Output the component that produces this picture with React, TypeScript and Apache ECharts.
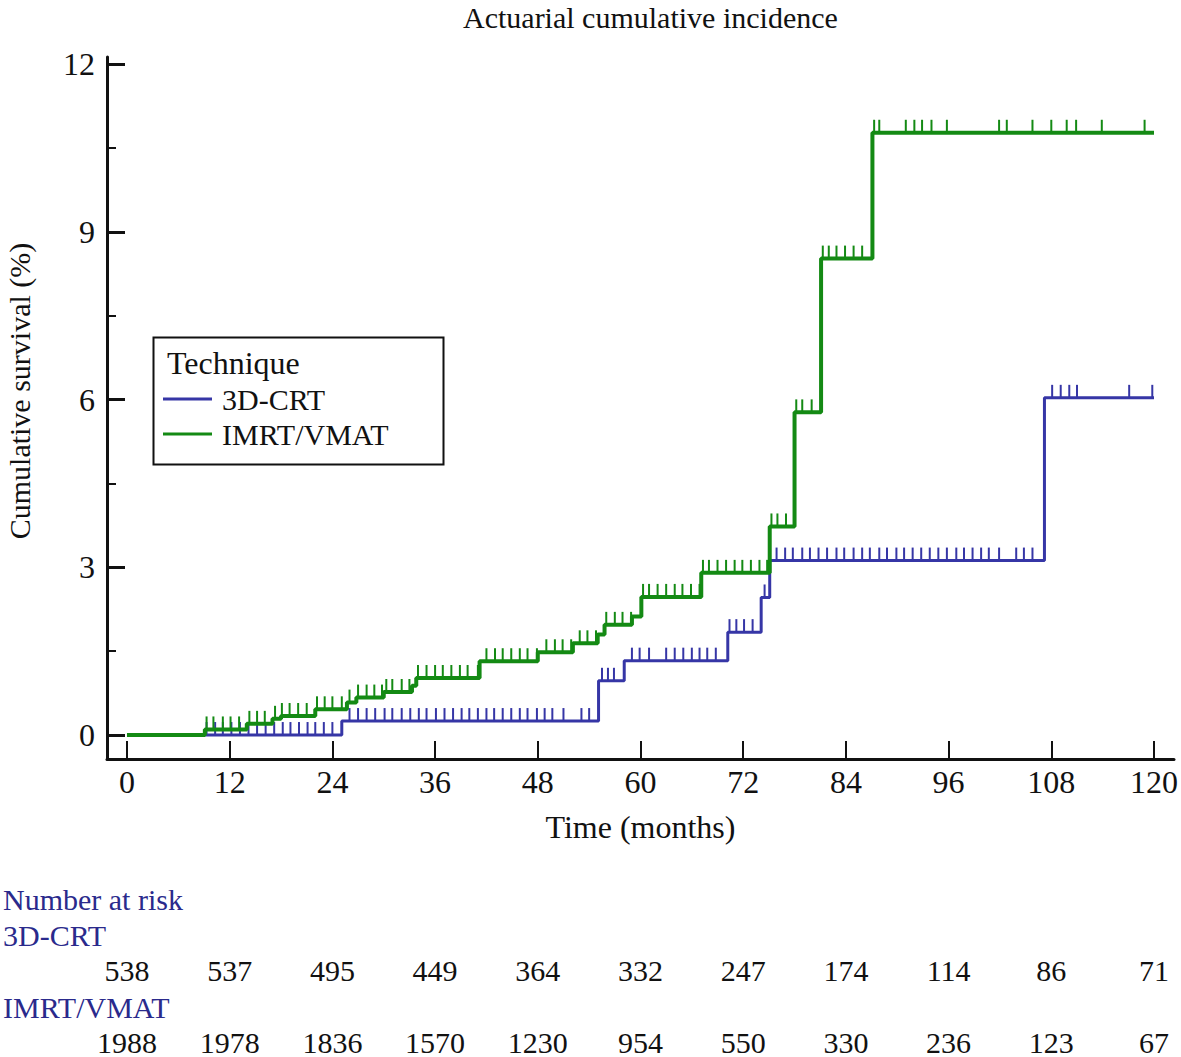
import React, { useEffect, useRef } from "react";
import * as echarts from "echarts";

// ---- data ----
const xTicks = [0, 12, 24, 36, 48, 60, 72, 84, 96, 108, 120];
const yMajorTicks = [0, 3, 6, 9, 12];
const yMinorTicks = [1.5, 4.5, 7.5, 10.5];

const crtTimes = [0, 25.1, 55.1, 58.1, 70.2, 74.1, 75.1, 107.2, 120];
const crtValues = [0, 0.25, 0.97, 1.33, 1.84, 2.46, 3.12, 6.03, 6.03];

const imrtTimes = [0, 9.1, 14, 17, 18, 22, 25.7, 26.8, 30, 33.3, 33.8, 41.2, 48, 52.1, 55, 55.8, 59, 60.1, 67.1, 75.1, 78, 81.1, 87.1, 120];
const imrtValues = [0, 0.1, 0.2, 0.29, 0.34, 0.46, 0.58, 0.67, 0.77, 0.88, 1.02, 1.32, 1.48, 1.64, 1.8, 1.97, 2.12, 2.47, 2.9, 3.73, 5.77, 8.52, 10.77, 10.77];

const crtCensored = [
  9.3, 10.3, 11.2, 12.2, 13.2, 14.2, 15.2, 16.2, 17.2, 18.2, 19.1, 20.1, 21.1, 22, 23, 24,
  26, 27, 28, 29, 30.1, 31, 32.1, 33.1, 34.1, 35, 36.1, 37.1, 38.1, 39.1, 40, 41, 42, 42.9, 43.9, 44.9, 45.9, 46.8, 47.9, 48.8, 49.7, 51, 53.1, 54,
  55.5, 56.2, 56.9,
  59, 59.9, 61, 63, 64, 65, 66, 66.9, 67.8, 68.8,
  70.4, 71.2, 72.1, 73.1,
  74.5,
  75.9, 76.9, 77.8, 78.9, 79.8, 80.8, 81.8, 82.9, 83.8, 84.9, 85.9, 86.8, 87.9, 88.8, 89.9, 90.8, 91.8, 92.8, 93.8, 94.8, 95.8, 96.9, 97.8, 98.8, 99.8, 100.7, 101.9, 103.9, 104.8, 105.8,
  108.1, 109.1, 110.1, 111, 117.1, 119.8,
];

const imrtCensored = [
  9.3, 10.1, 11.2, 12.1, 13.1,
  14.3, 15.2, 16.1,
  17.3,
  18.1, 19, 20, 21,
  22.2, 23.1, 24, 25.1,
  26,
  27, 28, 28.9, 29.8,
  30.3, 31, 32.1, 33,
  34, 35, 36, 36.9, 37.9, 38.9, 39.8, 41,
  42, 43, 43.9, 44.9, 45.9, 46.8, 47.9,
  49, 50, 50.9, 51.9,
  52.9, 53.8, 54.8,
  56, 57, 57.9, 58.9,
  60.3, 61, 62, 63, 64, 64.9, 65.9, 66.9,
  67.3, 68, 69, 70, 71, 71.9, 72.9, 73.9, 74.8,
  75.3, 76, 77,
  78.2, 78.9, 80,
  81.3, 82, 82.9, 83.9, 84.9, 85.9,
  87.3, 87.9, 91, 92, 92.9, 94, 95.8, 101.9, 102.8, 105.8, 108, 109.8, 110.9, 113.9, 118.9,
];

const crtAtRisk = [538, 537, 495, 449, 364, 332, 247, 174, 114, 86, 71];
const imrtAtRisk = [1988, 1978, 1836, 1570, 1230, 954, 550, 330, 236, 123, 67];

const seriesNames = ["3D-CRT", "IMRT/VMAT"];

// ---- styling ----
const BLUE = "#3636a6";
const GREEN = "#148a14";
const INK = "#111111";
const NAVY = "#2a2a8c";
const FONT = '"Liberation Serif", "Times New Roman", serif';
const FS_BIG = 32;
const FS_EDGE = 30;
const FS = 30;

// axis geometry (pixel mapping: 0 month at x=127, 120 at x=1155; 0% at y=736, 12% at y=64)
const X_MIN = -20 / (1028 / 120);
const X_MAX = 120 + 20 / (1028 / 120);
const Y_MIN = -24 / 56;
const Y_MAX = Y_MIN + 703 / 56;

function stepAt(times: number[], values: number[], t: number): number {
  let v = values[0];
  for (let i = 0; i < times.length; i++) {
    if (times[i] <= t) v = values[i];
  }
  return v;
}

export default function App() {
  const ref = useRef<HTMLDivElement>(null);

  useEffect(() => {
    if (!ref.current) return;
    const chart = echarts.init(ref.current, undefined, { renderer: "svg" });

    const bigStyle = { fontSize: FS_BIG, fontFamily: FONT, color: INK };
    const smallStyle = { fontSize: FS, fontFamily: FONT, color: INK };

    const option: any = {
      animation: false,
      backgroundColor: "#ffffff",
      title: {
        text: "Actuarial cumulative incidence",
        left: 463,
        top: 2,
        padding: 0,
        textStyle: { fontSize: FS_EDGE, fontFamily: FONT, color: INK, fontWeight: "normal" },
      },
      grid: { left: 107, right: 6, top: 57, bottom: 297, containLabel: false },
      legend: {
        data: seriesNames,
        orient: "vertical",
        left: 163,
        top: 384,
        padding: 0,
        itemWidth: 49,
        itemHeight: 3,
        itemGap: 5,
        icon: "rect",
        textStyle: { fontSize: FS, fontFamily: FONT, color: INK, padding: [0, 0, 0, 5] },
        z: 10,
      },
      xAxis: [
        {
          type: "value",
          min: X_MIN,
          max: X_MAX,
          axisLine: { show: true, onZero: false, lineStyle: { color: INK, width: 3 } },
          axisTick: { show: true, inside: true, length: 18, customValues: xTicks, lineStyle: { color: INK, width: 2 } },
          axisLabel: { customValues: xTicks, margin: 7, ...bigStyle },
          splitLine: { show: false },
          name: "Time (months)",
          nameLocation: "middle",
          nameGap: 52,
          nameTextStyle: bigStyle,
        },
        {
          type: "value",
          min: X_MIN,
          max: X_MAX,
          position: "bottom",
          offset: 188,
          axisLine: { show: false, onZero: false },
          axisTick: { show: false },
          splitLine: { show: false },
          axisLabel: {
            customValues: xTicks,
            margin: 8,
            ...smallStyle,
            formatter: (v: number) => String(crtAtRisk[xTicks.indexOf(Math.round(v))]),
          },
        },
        {
          type: "value",
          min: X_MIN,
          max: X_MAX,
          position: "bottom",
          offset: 260,
          axisLine: { show: false, onZero: false },
          axisTick: { show: false },
          splitLine: { show: false },
          axisLabel: {
            customValues: xTicks,
            margin: 8,
            ...smallStyle,
            formatter: (v: number) => String(imrtAtRisk[xTicks.indexOf(Math.round(v))]),
          },
        },
      ],
      yAxis: [
        {
          type: "value",
          min: Y_MIN,
          max: Y_MAX,
          axisLine: { show: true, onZero: false, lineStyle: { color: INK, width: 3 } },
          axisTick: { show: true, inside: true, length: 18, customValues: yMajorTicks, lineStyle: { color: INK, width: 3 } },
          axisLabel: { customValues: yMajorTicks, margin: 12, ...bigStyle },
          splitLine: { show: false },
        },
        {
          type: "value",
          min: Y_MIN,
          max: Y_MAX,
          position: "left",
          offset: 0,
          axisLine: { show: false, onZero: false },
          axisTick: { show: true, inside: true, length: 9, customValues: yMinorTicks, lineStyle: { color: INK, width: 2 } },
          axisLabel: { show: false },
          splitLine: { show: false },
        },
      ],
      series: [
        {
          name: "3D-CRT",
          type: "line",
          step: "end",
          symbol: "none",
          color: BLUE,
          lineStyle: { color: BLUE, width: 3 },
          data: crtTimes.map((t, i) => [t, crtValues[i]]),
          z: 3,
        },
        {
          name: "3D-CRT censored",
          type: "scatter",
          symbol: "rect",
          symbolSize: [2, 13],
          symbolOffset: [0, -6.5],
          itemStyle: { color: BLUE, opacity: 1 },
          data: crtCensored.map((t) => [t, stepAt(crtTimes, crtValues, t)]),
          z: 3,
        },
        {
          name: "IMRT/VMAT",
          type: "line",
          step: "end",
          symbol: "none",
          color: GREEN,
          lineStyle: { color: GREEN, width: 4 },
          data: imrtTimes.map((t, i) => [t, imrtValues[i]]),
          z: 4,
        },
        {
          name: "IMRT/VMAT censored",
          type: "scatter",
          symbol: "rect",
          symbolSize: [2, 13],
          symbolOffset: [0, -6.5],
          itemStyle: { color: GREEN, opacity: 1 },
          data: imrtCensored.map((t) => [t, stepAt(imrtTimes, imrtValues, t)]),
          z: 4,
        },
      ],
      graphic: [
        {
          type: "rect",
          z: 1,
          shape: { x: 153.5, y: 337.5, width: 290, height: 127 },
          style: { fill: "#ffffff", stroke: INK, lineWidth: 2 },
        },
        {
          type: "text",
          z: 11,
          x: 167,
          y: 363,
          style: { text: "Technique", font: `${FS_BIG}px ${FONT}`, fill: INK, align: "left", verticalAlign: "middle" },
        },
        {
          type: "text",
          x: 19,
          y: 391,
          rotation: Math.PI / 2,
          style: { text: "Cumulative survival (%)", font: `${FS_EDGE}px ${FONT}`, fill: INK, align: "center", verticalAlign: "middle" },
        },
        {
          type: "text",
          x: 3,
          y: 899,
          style: { text: "Number at risk", font: `${FS}px ${FONT}`, fill: NAVY, align: "left", verticalAlign: "middle" },
        },
        {
          type: "text",
          x: 3,
          y: 935,
          style: { text: "3D-CRT", font: `${FS}px ${FONT}`, fill: NAVY, align: "left", verticalAlign: "middle" },
        },
        {
          type: "text",
          x: 3,
          y: 1007,
          style: { text: "IMRT/VMAT", font: `${FS}px ${FONT}`, fill: NAVY, align: "left", verticalAlign: "middle" },
        },
      ],
    };

    chart.setOption(option);
    return () => chart.dispose();
  }, []);

  return (
    <div
      ref={ref}
      style={{ position: "fixed", left: 0, top: 0, width: 1181, height: 1057, background: "#ffffff" }}
    />
  );
}
